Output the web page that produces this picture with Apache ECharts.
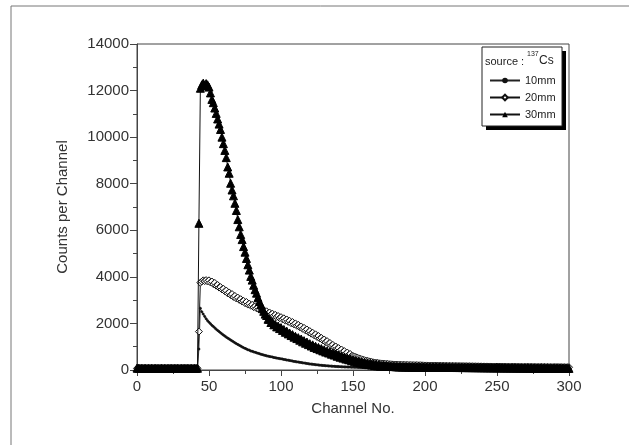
<!DOCTYPE html>
<html>
<head>
<meta charset="utf-8">
<script src="https://cdn.jsdelivr.net/npm/echarts@6/dist/echarts.min.js"></script>
<style>
html,body{margin:0;padding:0;background:#fff;}
#c{width:629px;height:445px;}
</style>
</head>
<body>
<div id="c"></div>
<script>
// Counts per channel, index = channel number 0..300
var counts10mm = [
60,58,62,57,61,59,63,56,60,58,
62,59,57,61,60,58,63,57,59,61,
58,60,62,57,61,59,60,58,62,56,
60,61,57,59,62,58,60,57,61,59,
58,62,60,900,2650,2500,2400,2300,2200,2120,
2050,1990,1920,1870,1810,1750,1700,1650,1600,1550,
1500,1460,1410,1370,1330,1290,1250,1210,1170,1130,
1100,1060,1030,990,960,930,900,870,850,820,
800,780,760,740,720,700,680,660,645,625,
610,595,580,570,555,540,525,515,500,490,
480,470,455,445,430,420,410,395,385,370,
360,350,340,330,320,310,300,290,280,270,
260,252,245,238,230,222,215,208,200,195,
190,185,180,175,170,165,160,156,152,148,
145,142,139,136,133,131,129,127,125,122,
120,118,116,114,112,110,108,106,104,102,
100,99,98,97,96,95,94,93,92,91,
90,89,88,88,87,86,86,85,84,84,
83,82,82,81,80,80,79,78,78,77,
76,76,75,75,74,74,73,73,72,72,
71,71,70,70,70,69,69,68,68,68,
67,67,67,66,66,66,65,65,65,64,
64,64,63,63,63,62,62,62,61,61,
61,60,60,60,59,59,59,58,58,58,
57,57,57,56,56,56,55,55,55,54,
54,54,53,53,53,52,52,52,51,51,
51,50,50,50,49,49,49,48,48,48,
47,47,47,46,46,46,45,45,45,44,
44,44,43,43,43,42,42,42,41,41,
41,40,40,40,39,39,39,38,38,38,
37];
var counts20mm = [
70,66,72,68,71,65,69,73,67,70,
68,72,66,70,74,69,67,71,68,70,
72,67,70,69,73,66,70,68,71,69,
70,67,72,68,70,71,66,69,72,68,
71,69,74,1650,3750,3800,3850,3820,3860,3800,
3850,3760,3800,3690,3740,3620,3650,3540,3560,3460,
3490,3380,3410,3290,3330,3220,3260,3140,3180,3070,
3110,3010,3040,2940,2970,2870,2920,2810,2850,2760,
2800,2700,2740,2650,2690,2590,2640,2540,2580,2480,
2520,2430,2470,2380,2420,2330,2370,2280,2320,2230,
2270,2180,2220,2120,2170,2070,2110,2010,2060,1960,
2000,1900,1940,1840,1870,1770,1810,1700,1740,1630,
1670,1560,1600,1490,1530,1420,1460,1350,1380,1280,
1310,1200,1240,1130,1160,1050,1080,980,1010,910,
940,840,880,770,810,710,750,650,690,600,
600,580,550,530,500,480,460,440,420,400,
390,375,360,345,330,320,310,300,292,285,
280,272,268,262,258,250,246,242,238,235,
230,228,226,224,222,220,218,217,215,213,
210,212,208,206,209,204,202,205,200,198,
190,196,188,193,186,191,184,189,182,187,
180,185,178,183,176,181,174,179,172,177,
170,175,168,173,166,171,164,169,162,167,
160,165,158,163,156,161,154,159,152,157,
150,155,148,153,146,151,144,149,142,147,
150,145,148,143,146,141,144,139,142,137,
140,145,138,143,136,141,134,139,132,137,
135,140,133,138,131,136,129,134,127,132,
130,135,128,133,126,131,124,129,122,127,
125,130,123,128,121,126,119,124,117,122,
120];
var counts30mm = [
80,75,70,72,68,74,70,66,71,69,
73,67,70,72,68,65,70,74,69,71,
66,70,68,72,67,71,69,70,73,66,
68,71,70,67,72,69,70,68,71,66,
70,72,75,6300,12100,12250,12320,12200,12300,12250,
12150,11900,11620,11480,11250,11020,10780,10560,10330,10000,
9720,9430,9120,8720,8450,8020,7730,7480,7160,6850,
6460,6150,5820,5600,5300,5060,4790,4520,4290,4020,
3860,3640,3450,3300,3110,2940,2810,2650,2520,2400,
2340,2180,2180,2040,2060,1940,1960,1850,1890,1780,
1820,1700,1740,1620,1670,1550,1590,1480,1520,1410,
1450,1350,1390,1280,1330,1210,1260,1150,1200,1090,
1130,1030,1080,970,1020,920,970,870,920,820,
870,770,820,730,780,680,730,640,690,590,
640,550,600,510,560,470,520,440,480,400,
440,370,410,335,380,305,350,275,325,250,
300,230,280,210,260,190,245,175,230,160,
185,180,175,170,165,160,155,150,148,145,
140,138,135,140,132,130,134,128,130,126,
128,124,127,122,125,120,124,118,122,120,
118,121,116,119,115,118,114,117,112,116,
113,115,111,114,110,113,109,112,108,111,
107,110,106,109,105,108,104,107,103,106,
104,102,105,101,104,100,103,99,102,98,
101,97,100,96,99,95,98,94,97,93,
96,92,95,91,94,90,93,89,92,88,
91,87,90,86,89,85,88,84,87,83,
86,82,85,81,84,80,83,79,82,78,
81,77,80,76,79,75,78,74,77,73,
76,72,75,71,74,70,73,69,72,68,
70];
var seriesNames = ['10mm', '20mm', '30mm'];
var xTicks = [0, 50, 100, 150, 200, 250, 300];
var yTicks = [0, 2000, 4000, 6000, 8000, 10000, 12000, 14000];

function pairs(arr){ return arr.map(function(v, i){ return [i, v]; }); }

var FONT = '"Liberation Sans", Arial, sans-serif';
var chart = echarts.init(document.getElementById('c'), null, {renderer: 'canvas'});
var lineStyle = {color: '#111', width: 1};
chart.setOption({
  animation: false,
  backgroundColor: '#ffffff',
  grid: {left: 137, right: 60, top: 44, bottom: 75, show: true, borderColor: '#444', borderWidth: 1, backgroundColor: 'transparent'},
  xAxis: {
    type: 'value', min: xTicks[0], max: xTicks[xTicks.length-1], interval: 50,
    name: 'Channel No.', nameLocation: 'middle', nameGap: 31,
    nameTextStyle: {fontFamily: FONT, fontSize: 15, color: '#333'},
    axisLine: {lineStyle: {color: '#444', width: 1}},
    axisTick: {show: true, length: 6, lineStyle: {color: '#444'}},
    minorTick: {show: true, splitNumber: 2, length: 4, lineStyle: {color: '#444'}},
    axisLabel: {fontFamily: FONT, fontSize: 15, color: '#333', margin: 9, formatter: function(v){ return String(v); }},
    splitLine: {show: false}
  },
  yAxis: {
    type: 'value', min: yTicks[0], max: yTicks[yTicks.length-1], interval: 2000,
    name: 'Counts per Channel', nameLocation: 'middle', nameGap: 67,
    nameTextStyle: {fontFamily: FONT, fontSize: 15, color: '#333'},
    axisLine: {show: true, lineStyle: {color: '#444', width: 1}},
    axisTick: {show: true, length: 7, lineStyle: {color: '#444'}},
    minorTick: {show: true, splitNumber: 2, length: 4, lineStyle: {color: '#444'}},
    axisLabel: {fontFamily: FONT, fontSize: 15, color: '#333', margin: 8, formatter: function(v){ return String(v); }},
    splitLine: {show: false}
  },
  legend: {
    orient: 'vertical', left: 489, top: 75, itemWidth: 30, itemHeight: 7, itemGap: 6,
    padding: 0,
    textStyle: {fontFamily: FONT, fontSize: 11, color: '#222'},
    data: seriesNames,
    z: 10
  },
  graphic: [
    {type: 'rect', silent: true, z: -10, shape: {x: 11, y: 6, width: 700, height: 500}, style: {fill: 'none', stroke: '#777', lineWidth: 1}},
    {type: 'rect', silent: true, z: 5, shape: {x: 486, y: 51, width: 80, height: 79}, style: {fill: '#000'}},
    {type: 'rect', silent: true, z: 6, shape: {x: 482, y: 47, width: 80, height: 79}, style: {fill: '#fff', stroke: '#222', lineWidth: 1}},
    {type: 'text', silent: true, z: 7, left: 485, top: 56, style: {text: 'source : ', font: '11px ' + FONT, fill: '#222'}},
    {type: 'text', silent: true, z: 7, left: 527, top: 51, style: {text: '137', font: '7px ' + FONT, fill: '#222'}},
    {type: 'text', silent: true, z: 7, left: 539, top: 55, style: {text: 'Cs', font: '12px ' + FONT, fill: '#222'}}
  ],
  series: [
    {name: seriesNames[0], type: 'line', data: pairs(counts10mm), symbol: 'circle', symbolSize: 2,
     showAllSymbol: true, lineStyle: {color: '#222', width: 0.8}, itemStyle: {color: '#111', borderColor: '#111'}, z: 2},
    {name: seriesNames[1], type: 'line', data: pairs(counts20mm), symbol: 'diamond', symbolSize: 7,
     showAllSymbol: true, lineStyle: lineStyle, itemStyle: {color: '#fff', borderColor: '#111', borderWidth: 1}, z: 3},
    {name: seriesNames[2], type: 'line', data: pairs(counts30mm), symbol: 'triangle', symbolSize: 8,
     showAllSymbol: true, lineStyle: lineStyle, itemStyle: {color: '#000', borderColor: '#000'}, z: 4}
  ]
});
</script>
</body>
</html>
